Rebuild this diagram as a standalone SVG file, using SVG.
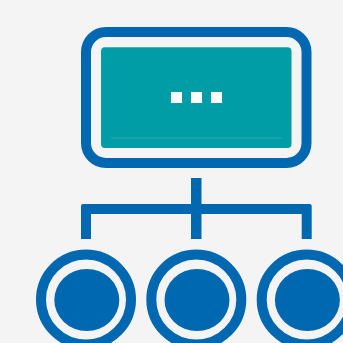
<svg xmlns="http://www.w3.org/2000/svg" width="343" height="343" viewBox="0 0 343 343">
<style>
.blue{fill:#0068b0}
.ring{fill:none;stroke:#0068b0;stroke-width:10}
.dot{fill:#ffffff}
</style>
<rect x="0" y="0" width="343" height="343" fill="#f4f4f4"/>
<g id="root">
<rect x="86" y="32" width="220.5" height="131" rx="20" ry="20" fill="#f4f4f4" stroke="#0068b0" stroke-width="10"/>
<rect x="101" y="47.3" width="190.5" height="100.7" rx="4" ry="4" fill="#009da6"/>
<line x1="111" y1="138" x2="282" y2="138" stroke="#2aabb2" stroke-width="1"/>
<rect class="dot" x="171" y="92" width="11" height="11"/>
<rect class="dot" x="191" y="92" width="11" height="11"/>
<rect class="dot" x="211" y="92" width="11" height="11"/>
</g>
<g id="connectors">
<rect class="blue" x="191" y="178" width="10.5" height="61"/>
<path class="blue" d="M81,239 V206 Q81,204 83,204 H309.7 Q311.7,204 311.7,206 V239 H301.7 V214 H91 V239 Z"/>
</g>
<g id="child1">
<circle class="ring" cx="86" cy="299.5" r="45"/>
<ellipse class="blue" cx="86.8" cy="300" rx="32.5" ry="31"/>
</g>
<g id="child2">
<circle class="ring" cx="196.3" cy="299.5" r="45"/>
<ellipse class="blue" cx="197" cy="300" rx="32.5" ry="31"/>
</g>
<g id="child3">
<circle class="ring" cx="306.7" cy="299.5" r="45"/>
<ellipse class="blue" cx="307.4" cy="300" rx="32.5" ry="31"/>
</g>
</svg>
